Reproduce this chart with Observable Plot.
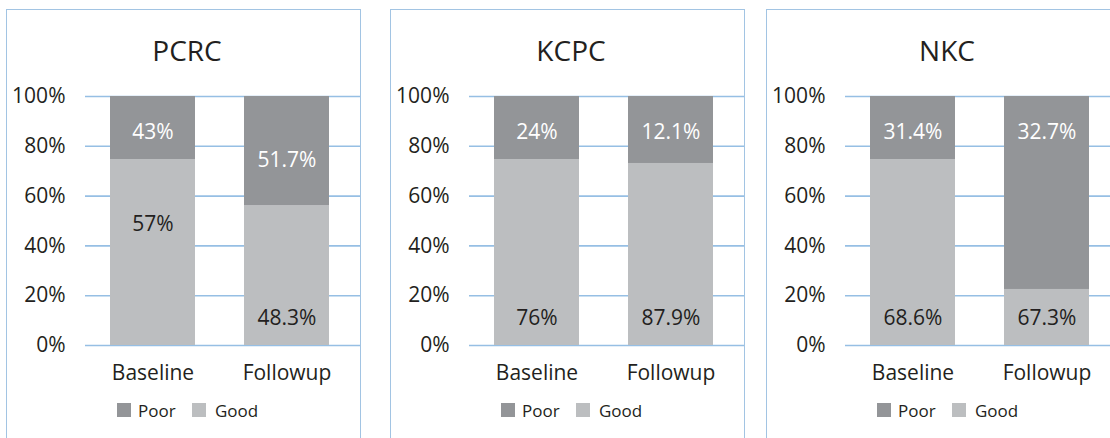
<!DOCTYPE html>
<html>
<head>
<meta charset="utf-8">
<script src="https://cdn.jsdelivr.net/npm/d3@7"></script>
<script src="https://cdn.jsdelivr.net/npm/@observablehq/plot@0.6"></script>
<style>
  html, body { margin: 0; padding: 0; background: #fff; }
  body { width: 1110px; height: 438px; overflow: hidden; position: relative; font-family: "Open Sans", sans-serif; color: #231f20; }
  .panel { position: absolute; top: 0; width: 356px; height: 438px; }
  .frame { position: absolute; left: 0; top: 9px; width: 355px; height: 460px; border: 1.5px solid #a2c4e3; box-sizing: border-box; }
  .title { position: absolute; left: 3px; width: 356px; top: 36px; text-align: center; font-size: 28px; line-height: 28px; }
  .chart { position: absolute; left: 0; top: 0; }
  .legend { position: absolute; top: 402px; left: 0; width: 356px; height: 17px; font-size: 17px; line-height: 17px; }
  .legend .sw { position: absolute; top: 1px; width: 14px; height: 14px; }
  .legend .lb { position: absolute; top: 0; }
</style>
</head>
<body>
<script>
// ---- data ----
const panelNames = ["PCRC", "KCPC", "NKC"];
const times = ["Baseline", "Followup"];
const categories = ["Poor", "Good"];
const colors = ["#939598", "#bcbec0"];
// drawn share of "Good" (bar boundary)
const goodShare = [[0.747, 0.562], [0.747, 0.731], [0.747, 0.225]];
// printed labels
const goodLabels = [["57%", "48.3%"], ["76%", "87.9%"], ["68.6%", "67.3%"]];
const poorLabels = [["43%", "51.7%"], ["24%", "12.1%"], ["31.4%", "32.7%"]];
// label anchor values on the percentage axis
const goodLabelAt = [[0.486, 0.108], [0.108, 0.108], [0.108, 0.108]];
const poorLabelAt = [[0.858, 0.743], [0.855, 0.855], [0.855, 0.855]];
const yTicks = [0, 0.2, 0.4, 0.6, 0.8, 1];
const panelLeft = [6, 390, 766];

panelNames.forEach((name, p) => {
  const wrap = document.createElement("div");
  wrap.className = "panel";
  wrap.style.left = panelLeft[p] + "px";
  document.body.appendChild(wrap);

  const frame = document.createElement("div");
  frame.className = "frame";
  wrap.appendChild(frame);

  const title = document.createElement("div");
  title.className = "title";
  title.textContent = name;
  wrap.appendChild(title);

  const rows = [];
  const labels = [];
  times.forEach((t, i) => {
    rows.push({time: t, category: "Good", value: goodShare[p][i]});
    rows.push({time: t, category: "Poor", value: 1 - goodShare[p][i]});
    labels.push({time: t, category: "Good", at: goodLabelAt[p][i], text: goodLabels[p][i]});
    labels.push({time: t, category: "Poor", at: poorLabelAt[p][i], text: poorLabels[p][i]});
  });

  const chart = Plot.plot({
    width: 354,
    height: 438,
    marginLeft: 79,
    marginRight: 0,
    marginTop: 96,
    marginBottom: 93,
    style: {fontFamily: "Open Sans", fontSize: "21px", color: "#231f20", background: "transparent", overflow: "visible"},
    x: {domain: times, range: [79, 348], paddingInner: 0.363, paddingOuter: 0.18, label: null},
    y: {domain: [0, 1], label: null},
    color: {domain: categories, range: colors},
    marks: [
      Plot.ruleY(yTicks, {stroke: "#96bfe4", strokeWidth: 1.6}),
      Plot.barY(rows, {x: "time", y: "value", fill: "category", order: ["Good", "Poor"]}),
      Plot.text(labels, {x: "time", y: "at", text: "text", fontSize: 21,
        fill: d => d.category === "Poor" ? "#ffffff" : "#231f20"}),
      Plot.axisY({ticks: yTicks, tickFormat: d3.format(".0%"), tickSize: 0, tickPadding: 20, fontSize: 21, fill: "#231f20"}),
      Plot.axisX({tickSize: 0, tickPadding: 20, fontSize: 21, fill: "#231f20"})
    ]
  });
  chart.classList.add("chart");
  wrap.appendChild(chart);

  const legend = document.createElement("div");
  legend.className = "legend";
  const items = [["Poor", 111, 132], ["Good", 186, 209]];
  items.forEach(([lab, sx, tx]) => {
    const sw = document.createElement("div");
    sw.className = "sw";
    sw.style.left = sx + "px";
    sw.style.background = colors[categories.indexOf(lab)];
    legend.appendChild(sw);
    const lb = document.createElement("div");
    lb.className = "lb";
    lb.style.left = tx + "px";
    lb.textContent = lab;
    legend.appendChild(lb);
  });
  wrap.appendChild(legend);
});
</script>
</body>
</html>
